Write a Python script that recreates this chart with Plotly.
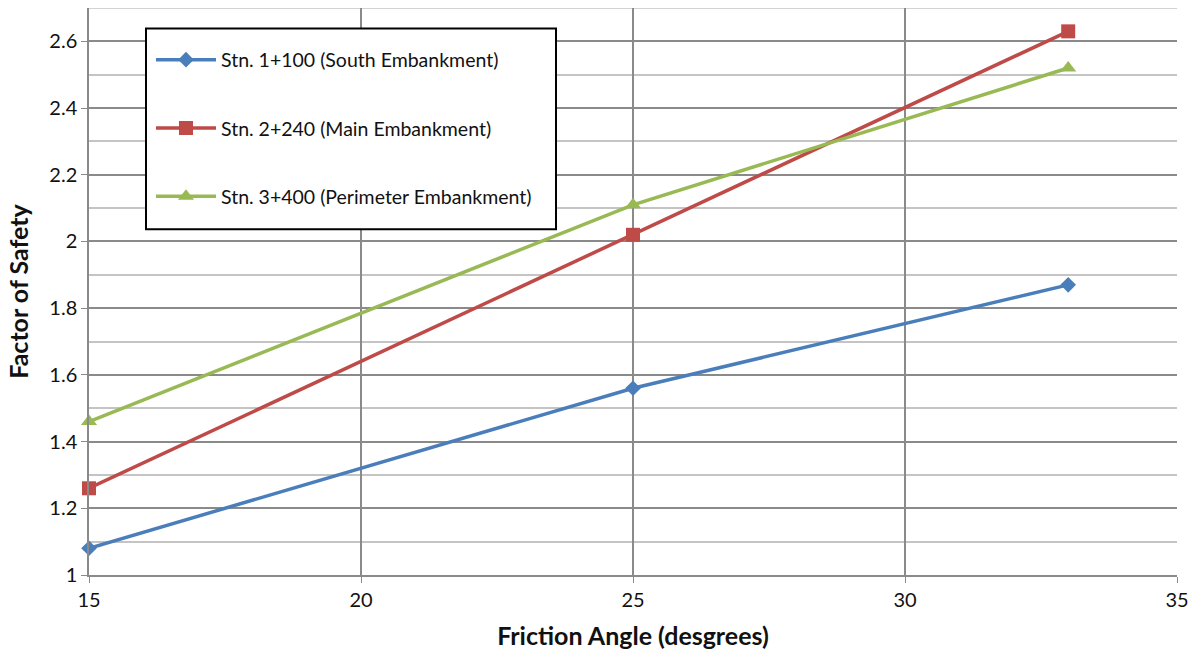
import plotly.graph_objects as go

friction_angle = [15, 25, 33]
stn_1100 = [1.08, 1.56, 1.87]
stn_2240 = [1.26, 2.02, 2.63]
stn_3400 = [1.46, 2.11, 2.52]

names = ["Stn. 1+100 (South Embankment)", "Stn. 2+240 (Main Embankment)",
         "Stn. 3+400 (Perimeter Embankment)"]
colors = ["#4a7ebb", "#be4b48", "#98b954"]
symbols = ["diamond", "square", "triangle-up"]
sizes = [12, 14, 14]
series = [stn_1100, stn_2240, stn_3400]

fig = go.Figure()
for i, (nm, ys) in enumerate(zip(names, series)):
    fig.add_trace(go.Scatter(
        x=friction_angle, y=ys, name=nm, mode="lines+markers",
        line=dict(color=colors[i], width=3.5),
        marker=dict(symbol=symbols[i], size=sizes[i], color=colors[i]),
        legendgroup=f"g{i}", cliponaxis=False,
    ))

font_family = "Lato, Open Sans, Liberation Sans, sans-serif"
fig.update_layout(
    width=1191, height=657,
    margin=dict(l=89, r=14, t=7.5, b=82, autoexpand=False),
    paper_bgcolor="white", plot_bgcolor="white",
    font=dict(family=font_family, size=19, color="#111111"),
    showlegend=True,
    legend=dict(
        x=(151 - 89) / 1088, y=(575 - 40) / 567.5, xanchor="left", yanchor="top",
        bgcolor="rgba(0,0,0,0)", borderwidth=0,
        font=dict(size=19.5, color="#111111"),
        tracegroupgap=40, itemwidth=60,
    ),
    xaxis=dict(
        range=[15, 35], dtick=5, tick0=15, automargin=False,
        showgrid=True, gridcolor="#8a8a8a", gridwidth=1.5,
        showline=True, linecolor="#8a8a8a", linewidth=1.5, mirror=False,
        ticks="outside", ticklen=6, tickcolor="#8a8a8a",
        zeroline=False,
        title=dict(text="<b>Friction Angle (desgrees)</b>", font=dict(size=25), standoff=18),
        tickfont=dict(size=20),
    ),
    yaxis=dict(
        range=[1, 2.7], dtick=0.2, tick0=1, automargin=False,
        showgrid=True, gridcolor="#8a8a8a", gridwidth=1.5,
        minor=dict(dtick=0.1, tick0=1, showgrid=True, gridcolor="#c4c4c4", gridwidth=1.5),
        showline=True, linecolor="#8a8a8a", linewidth=1.5,
        ticks="outside", ticklen=6, tickcolor="#8a8a8a",
        zeroline=False,
        title=dict(text="<b>Factor of Safety</b>", font=dict(size=25), standoff=14),
        tickfont=dict(size=20),
    ),
)
fig.add_shape(type="line", xref="paper", yref="y", x0=0, x1=1, y0=2.7, y1=2.7,
              line=dict(color="#c4c4c4", width=1.5), layer="below")
# legend frame
fig.add_shape(type="rect", xref="paper", yref="paper",
              x0=(146 - 89) / 1088, x1=(556 - 89) / 1088,
              y0=(575 - 229) / 567.5, y1=(575 - 28) / 567.5,
              fillcolor="white", line=dict(color="black", width=2), layer="above")

fig.write_html("out.html", config={"displayModeBar": False},
               post_script="document.body.style.margin='0';")
